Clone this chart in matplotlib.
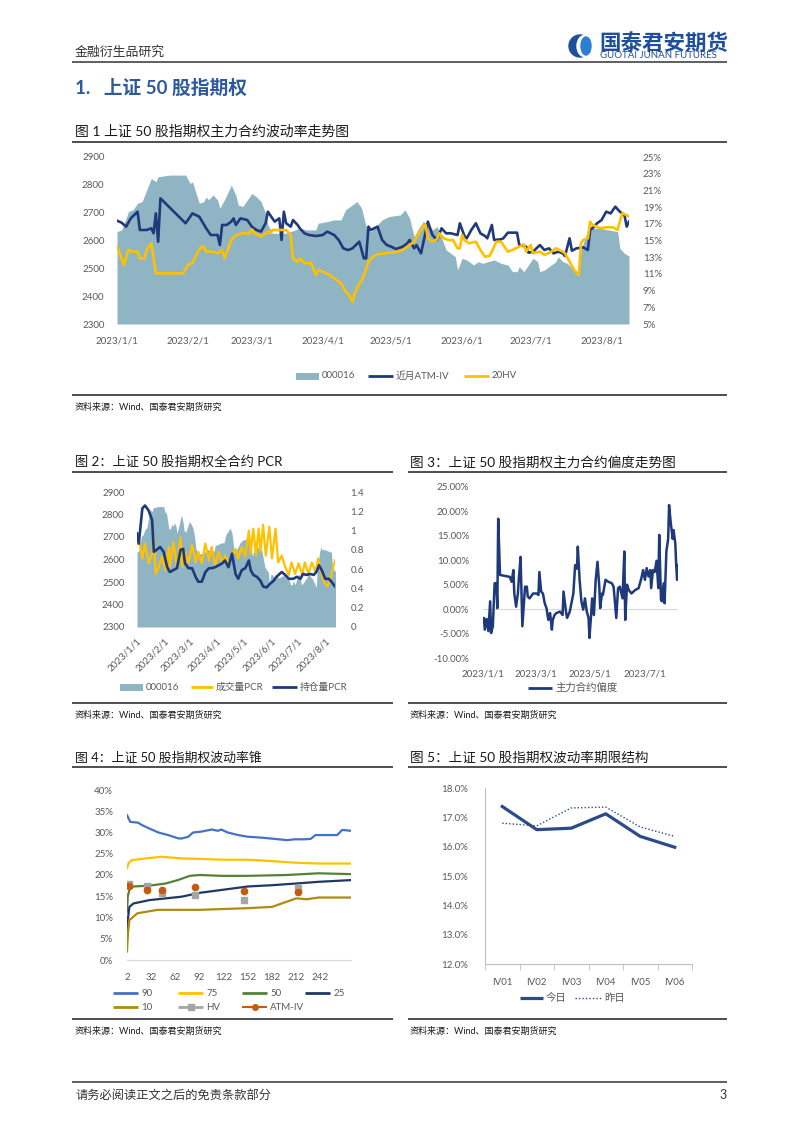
import numpy as np
import pandas as pd
import matplotlib
matplotlib.use('Agg')
import matplotlib.pyplot as plt
import matplotlib.ticker as mticker
import matplotlib.dates as mdates
from matplotlib.patches import Rectangle, Ellipse, Circle

# ---------------- data ----------------
BASE = '2023-01-01'
month_ticks = ['2023-01-01', '2023-02-01', '2023-03-01', '2023-04-01',
               '2023-05-01', '2023-06-01', '2023-07-01', '2023-08-01']
skew_ticks = ['2023-01-01', '2023-03-01', '2023-05-01', '2023-07-01']

# 000016 index (days since 2023-01-01)
idx_day = [0,2,4,5,7,9,11,13,15,17,18,23,30,32,33,36,38,39,40,42,44,45,47,49,50,52,53,55,58,59,
           61,63,65,66,68,74,78,80,83,87,88,92,95,98,100,102,105,107,109,111,116,119,124,126,128,130,132,134,136,138,
           140,141,144,146,148,149,151,153,156,158,160,165,168,171,173,175,176,178,180,182,184,185,187,189,192,193,195,197,200,202,
           203,206,207,208,211,215,219,220,222,224]
idx_val = [2632,2638,2680,2704,2710,2734,2740,2781,2823,2811,2829,2835,2835,2805,2811,2734,2740,2757,2746,2763,
           2746,2716,2746,2781,2799,2763,2728,2722,2757,2769,2757,2740,2698,2656,2626,2626,2638,2644,2638,2638,
           2662,2668,2674,2674,2710,2722,2740,2716,2650,2632,2674,2686,2692,2710,2680,2614,2644,2668,2656,2638,
           2650,2632,2566,2554,2542,2494,2536,2530,2512,2524,2518,2530,2518,2512,2488,2488,2506,2488,2512,2536,
           2524,2488,2494,2506,2524,2542,2524,2518,2494,2476,2566,2638,2656,2644,2644,2638,2632,2572,2554,2544]

# near-month ATM implied vol (%)
atm_day = [0,2,4,6,9,10,13,15,16,17,18,19,30,33,36,39,41,44,45,46,48,50,51,52,54,57,59,61,63,65,
           66,68,69,71,72,73,74,76,77,79,80,82,84,87,90,92,95,97,99,101,103,106,108,109,110,111,114,116,118,120,
           122,125,127,128,130,131,133,136,138,140,142,144,146,149,150,152,153,155,157,159,161,162,164,165,168,169,171,175,176,179,
           180,182,185,187,189,191,193,195,196,198,199,201,204,206,207,208,210,212,214,216,218,220,222,223,224]
atm_val = [17.37,17.14,16.66,17.65,18.45,16.26,16.26,16.46,15.86,18.25,14.86,20.05,17.06,18.25,17.85,16.46,15.66,15.66,14.46,16.86,
           16.86,17.26,17.65,16.86,17.65,17.45,16.66,16.26,16.06,17.06,18.45,17.65,17.26,17.65,15.06,18.45,17.06,16.66,17.45,16.86,
           16.46,15.86,15.66,15.54,15.66,16.06,15.66,15.06,14.06,13.86,14.06,14.86,12.86,12.86,16.66,16.26,16.66,15.06,14.46,14.26,
           13.98,14.26,14.66,15.06,14.06,14.46,13.46,17.26,15.66,15.06,16.46,15.86,15.86,15.66,17.06,15.54,15.26,16.26,17.06,15.86,
           15.54,15.26,16.86,15.06,15.14,15.26,15.94,15.94,14.46,14.26,13.54,13.66,14.46,13.86,14.06,13.46,13.66,13.46,13.14,15.26,
           13.78,14.06,14.18,13.86,16.26,16.46,17.06,17.45,18.45,18.25,19.05,18.45,18.05,16.66,17.26]

# 20-day historical vol (%)
hv_day = [0,2,3,5,7,9,10,12,13,15,17,29,31,33,35,37,38,39,42,44,46,47,49,50,52,55,58,59,60,63,
          66,67,68,74,76,77,79,80,82,85,87,88,90,93,95,98,100,101,103,104,106,107,109,110,112,114,117,119,122,125,
          128,130,132,134,135,136,138,140,141,143,145,147,149,150,151,152,154,157,159,161,163,165,166,168,171,173,176,178,179,181,
          182,185,187,190,192,195,196,198,200,202,203,204,206,207,208,210,211,214,217,219,221,223,224]
hv_val = [14.26,12.86,12.07,13.86,13.66,13.66,12.86,12.86,13.86,14.66,11.07,11.07,12.07,12.27,13.46,14.26,14.26,13.66,13.66,13.46,
          13.86,12.86,14.26,15.06,15.66,15.86,15.86,16.34,15.94,15.46,16.06,15.86,16.26,16.26,15.66,12.86,12.46,12.86,12.27,12.27,
          10.87,11.47,11.27,10.87,10.47,9.87,8.87,8.67,7.67,8.67,9.87,10.07,11.6,12.47,13.06,13.38,13.46,13.54,13.62,13.86,
          14.46,14.86,15.86,16.74,16.86,15.26,14.86,15.14,15.86,15.26,15.06,15.06,14.06,14.06,15.66,15.06,14.66,14.86,13.86,13.06,
          13.14,14.26,14.86,14.86,13.66,13.86,14.26,14.54,13.66,14.46,13.46,13.66,13.26,13.66,14.06,13.66,13.46,12.47,11.47,10.87,
          14.66,15.06,15.26,17.26,16.86,16.66,16.46,16.58,16.58,16.26,18.25,18.05,17.86]

# PCR (all contracts)
vol_pcr_day = [0,2,6,9,13,17,19,21,24,28,32,36,37,41,45,49,51,54,58,62,66,69,73,77,81,84,88,92,96,99,
               103,107,111,114,118,122,126,128,131,134,137,139,142,145,149,152,156,159,163,167,171,174,178,182,186,189,193,197,201,204,
               208,210,214,217,220,223]
vol_pcr = [0.865,0.92,0.71,0.865,0.66,0.76,0.93,0.55,0.61,0.73,0.59,0.83,0.62,0.88,0.62,0.93,0.62,0.78,0.67,0.85,
           0.67,0.78,0.66,0.865,0.69,0.83,0.64,0.78,0.66,0.74,0.66,0.73,0.81,0.71,0.83,0.73,1.00,0.76,1.02,0.74,
           1.02,0.78,1.06,0.74,1.04,0.71,1.02,0.67,0.74,0.62,0.54,0.67,0.55,0.66,0.54,0.67,0.55,0.67,0.57,0.71,
           0.55,0.48,0.42,0.47,0.59,0.69]
oi_pcr_day = [0,2,6,9,13,17,19,22,26,30,34,37,41,45,49,52,54,58,62,66,69,73,77,81,84,88,92,96,99,103,
              107,111,114,118,122,126,128,131,135,139,142,146,150,154,157,163,167,171,176,180,184,187,191,195,199,202,205,208,212,216,
              219,223]
oi_pcr = [0.97,0.865,1.23,1.26,1.21,1.11,0.78,0.80,0.83,0.78,0.62,0.57,0.59,0.61,0.80,0.81,0.66,0.61,0.61,0.52,
          0.47,0.47,0.57,0.61,0.61,0.62,0.64,0.66,0.69,0.62,0.76,0.55,0.50,0.59,0.61,0.69,0.59,0.54,0.52,0.48,
          0.42,0.41,0.45,0.48,0.52,0.57,0.54,0.50,0.50,0.52,0.50,0.55,0.54,0.55,0.54,0.57,0.64,0.59,0.50,0.50,
          0.47,0.42]

# main-contract skew (%)
skew_day = [0,1,2,4,6,8,9,11,13,15,16,17,19,30,32,34,35,37,39,40,42,44,47,49,50,52,56,60,62,63,
            65,67,69,71,73,75,77,78,80,82,86,89,90,93,94,97,101,103,105,106,108,110,112,114,116,118,119,121,122,124,
            126,128,130,131,133,134,137,140,144,146,149,151,153,156,158,159,161,163,166,170,174,177,179,181,183,185,187,188,190,192,
            194,196,197,199,200,202,203,205,207,208,210,212,213,215,216,217,218]
skew_val = [-2.5,-1.8,-4.2,-2.0,-4.5,1.6,-4.9,-3.5,5.3,5.3,0.2,18.5,7.0,6.6,5.6,8.0,3.2,0.5,3.2,6.0,
            10.7,-3.5,4.6,4.6,2.6,2.2,3.2,3.2,2.9,7.6,3.6,3.2,1.2,0.2,-2.2,-0.8,-4.2,-2.2,-1.2,-0.8,
            -0.5,-1.2,3.6,-0.8,-1.8,-0.5,3.2,9.0,8.3,12.8,6.0,1.6,-0.1,2.2,-0.5,-1.8,-5.9,-0.8,2.2,-1.2,
            6.0,9.7,4.6,0.2,3.2,2.9,6.0,5.6,5.3,4.6,-1.8,4.3,4.6,2.2,11.8,-2.2,5.0,3.9,3.2,3.9,
            4.3,6.3,8.0,6.0,8.4,6.7,8.0,4.3,8.0,7.6,9.9,4.3,15.2,1.9,1.6,5.3,1.2,11.8,14.4,21.3,
            17.5,14.4,16.2,13.4,9.0,6.0,9.0]

# volatility cone (%)
cone_x90 = [2,6,16,20,29,41,53,66,70,78,84,94,107,115,119,127,140,152,168,185,201,210,222,230,236,251,263,269,280]
cone_90 = [34.1,32.5,32.3,31.8,31.0,30.0,29.4,28.6,28.6,29.0,30.0,30.2,30.7,30.4,30.7,30.0,29.4,29.0,28.8,28.5,
           28.2,28.4,28.4,28.5,29.4,29.4,29.4,30.6,30.4]
cone_x75 = [2,4,8,30,45,70,92,120,152,180,210,240,280]
cone_75 = [21.6,22.8,23.5,24.0,24.3,23.9,23.8,23.6,23.6,23.3,22.9,22.7,22.7]
cone_x50 = [2,3,5,10,30,50,65,80,92,120,152,200,240,280]
cone_50 = [11.4,15.0,16.5,17.3,17.5,18.0,18.8,19.8,20.0,19.8,19.8,20.0,20.4,20.2]
cone_x25 = [2,3,5,10,30,50,70,92,120,152,182,212,240,280]
cone_25 = [4.7,9.5,12.5,13.3,14.1,14.5,14.9,15.8,16.5,17.3,17.6,18.0,18.4,18.8]
cone_x10 = [2,3,5,15,40,92,152,182,200,212,225,240,280]
cone_10 = [2.0,6.0,9.4,11.0,11.8,11.8,12.2,12.5,13.7,14.5,14.3,14.7,14.7]
cone_pt_x = [5,27,45,86,147,214]
cone_hv = [17.9,17.4,15.8,15.3,14.1,17.0]
cone_atm = [17.4,16.5,16.5,17.1,16.3,16.1]
cone_xticks = [2,32,62,92,122,152,182,212,242]

# term structure (%)
term_labels = ['IV01', 'IV02', 'IV03', 'IV04', 'IV05', 'IV06']
term_today = [17.37, 16.58, 16.63, 17.12, 16.35, 15.98]
term_yday = [16.80, 16.71, 17.32, 17.35, 16.67, 16.35]

# ---------------- style ----------------
W, H = 802, 1134
NAVY = '#1F3A7A'
AREA = '#8FB5C5'
GOLD = '#FFC000'
TICK = '#595959'
TXT = '#1a1a1a'
RULE = '#404040'
plt.rcParams['font.family'] = ['Lato', 'Noto Sans CJK SC', 'DejaVu Sans']
plt.rcParams['axes.unicode_minus'] = False

fig = plt.figure(figsize=(W / 100, H / 100), dpi=100)


def axes_px(l, t, r, b):
    ax = fig.add_axes([l / W, 1 - b / H, (r - l) / W, (b - t) / H])
    ax.patch.set_alpha(0)
    return ax


def style(ax, pad_x=8, pad_y=7):
    for s in ax.spines.values():
        s.set_visible(False)
    ax.tick_params(axis='both', length=0, labelsize=7, labelcolor=TICK)
    ax.tick_params(axis='x', pad=pad_x)
    ax.tick_params(axis='y', pad=pad_y)


def dates(days):
    return pd.Timestamp(BASE) + pd.to_timedelta(np.asarray(days), unit='D')


date_fmt = mticker.FuncFormatter(
    lambda v, p: '{0.year}/{0.month}/{0.day}'.format(mdates.num2date(v)))

ov = fig.add_axes([0, 0, 1, 1], zorder=10)
ov.set_xlim(0, W)
ov.set_ylim(H, 0)
ov.axis('off')


def rule(y, x0, x1, lw=1.3, color=RULE):
    ov.plot([x0, x1], [y, y], color=color, lw=lw, solid_capstyle='butt')


def t(x, y, s, size, color=TXT, **kw):
    ov.text(x, y, s, fontsize=size, color=color, va='center', **kw)


def leg_patch(x, y, color, label, w=23, h=7, size=7):
    ov.add_patch(Rectangle((x, y - h / 2), w, h, color=color, lw=0))
    t(x + w + 3, y, label, size, TICK)


def leg_line(x, y, color, label, w=25, lw=2.0, ls='-', marker=None, ms=4, size=7):
    ov.plot([x, x + w], [y, y], color=color, lw=lw, ls=ls, solid_capstyle='butt')
    if marker:
        ov.plot([x + w / 2], [y], marker=marker, color=color, ms=ms, lw=0)
    t(x + w + 3, y, label, size, TICK)


# ---------------- page decorations ----------------
t(75, 52, '金融衍生品研究', 9.3, '#333333')
rule(62, 72, 727, lw=1.1, color='#333333')
ov.add_patch(Circle((580, 46), 11, color='#1F4E9A'))
ov.add_patch(Ellipse((584.5, 46), 15, 21, color='white'))
ov.add_patch(Ellipse((586, 46), 10, 18, color='#2F7FD0'))
t(599, 43, '国泰君安期货', 15.5, '#1F4E9A', fontweight='bold')
t(600, 56, 'GUOTAI JUNAN FUTURES', 7.0, '#1F4E9A')
t(75, 88, '1.   上证 50 股指期权', 13.5, '#2E5A9C', fontweight='bold')

t(75, 131, '图 1 上证 50 股指期权主力合约波动率走势图', 10)
rule(142, 72, 727)
rule(395, 72, 727)
t(75, 407, '资料来源：Wind、国泰君安期货研究', 6.5)

t(75, 462, '图 2：上证 50 股指期权全合约 PCR', 9.5)
rule(472, 72, 393)
rule(703, 72, 393)
t(75, 715, '资料来源：Wind、国泰君安期货研究', 6.5)

t(410, 462, '图 3：上证 50 股指期权主力合约偏度走势图', 9.8)
rule(472, 408, 727)
rule(703, 408, 727)
t(410, 715, '资料来源：Wind、国泰君安期货研究', 6.5)

t(75, 758, '图 4：上证 50 股指期权波动率锥', 9.3)
rule(767, 72, 393)
rule(1019, 72, 393)
t(75, 1031, '资料来源：Wind、国泰君安期货研究', 6.5)

t(410, 758, '图 5：上证 50 股指期权波动率期限结构', 9.8)
rule(767, 408, 727)
rule(1019, 408, 727)
t(410, 1031, '资料来源：Wind、国泰君安期货研究', 6.5)

rule(1082, 72, 727, lw=1.1, color='#333333')
t(75, 1095, '请务必阅读正文之后的免责条款部分', 8.8, '#333333')
t(727, 1095, '3', 9, '#333333', ha='right')

# ---------------- chart 1 ----------------
ax1 = axes_px(117, 157, 629, 324)
ax1.fill_between(dates(idx_day), idx_val, 2300, color=AREA, lw=0)
ax1.set_ylim(2300, 2900)
ax1.set_yticks(range(2300, 2901, 100))
ax1.set_xlim(dates(idx_day)[0], dates(idx_day)[-1])
ax1.set_xticks(pd.to_datetime(month_ticks))
ax1.xaxis.set_major_formatter(date_fmt)
style(ax1, pad_x=9, pad_y=9)
ax1r = ax1.twinx()
ax1r.patch.set_alpha(0)
ax1r.plot(dates(atm_day), atm_val, color=NAVY, lw=1.9)
ax1r.plot(dates(hv_day), hv_val, color=GOLD, lw=1.9)
ax1r.set_ylim(5, 25)
ax1r.set_yticks(range(5, 26, 2))
ax1r.yaxis.set_major_formatter(mticker.FuncFormatter(lambda v, p: f'{v:.0f}%'))
style(ax1r, pad_y=10)
leg_patch(296, 376, AREA, '000016')
leg_line(368, 376, NAVY, '近月ATM-IV')
leg_line(464, 376, GOLD, '20HV')

# ---------------- chart 2 ----------------
ax2 = axes_px(137, 492, 335, 627)
ax2.fill_between(dates(idx_day), idx_val, 2300, color=AREA, lw=0)
ax2.set_ylim(2300, 2900)
ax2.set_yticks(range(2300, 2901, 100))
ax2.set_xlim(dates(idx_day)[0], dates(vol_pcr_day)[-1])
ax2.set_xticks(pd.to_datetime(month_ticks))
ax2.xaxis.set_major_formatter(date_fmt)
style(ax2, pad_x=7, pad_y=9)
plt.setp(ax2.get_xticklabels(), rotation=45, ha='right', rotation_mode='anchor')
ax2r = ax2.twinx()
ax2r.patch.set_alpha(0)
ax2r.plot(dates(vol_pcr_day), vol_pcr, color=GOLD, lw=1.6)
ax2r.plot(dates(oi_pcr_day), oi_pcr, color=NAVY, lw=1.9)
ax2r.set_ylim(0, 1.4)
ax2r.set_yticks(np.arange(0, 1.41, 0.2))
ax2r.yaxis.set_major_formatter(mticker.FuncFormatter(lambda v, p: f'{v:.1f}'.rstrip('0').rstrip('.') if v else '0'))
style(ax2r, pad_y=11)
leg_patch(120, 687, AREA, '000016')
leg_line(191, 687, GOLD, '成交量PCR', w=22)
leg_line(272, 687, NAVY, '持仓量PCR', w=25)

# ---------------- chart 3 ----------------
ax3 = axes_px(483, 487, 678, 658)
ax3.axhline(0, color='#D9D9D9', lw=0.8)
ax3.plot(dates(skew_day), skew_val, color=NAVY, lw=1.8)
ax3.set_ylim(-10, 25)
ax3.set_yticks(range(-10, 26, 5))
ax3.yaxis.set_major_formatter(mticker.FuncFormatter(lambda v, p: f'{v:.2f}%'))
ax3.set_xlim(dates(skew_day)[0], dates(skew_day)[-1])
ax3.set_xticks(pd.to_datetime(skew_ticks))
ax3.xaxis.set_major_formatter(date_fmt)
style(ax3, pad_x=8, pad_y=10)
leg_line(528, 688, NAVY, '主力合约偏度', w=24, size=7.5)

# ---------------- chart 4 ----------------
ax4 = axes_px(127, 790, 351, 960)
ax4.plot(cone_x90, cone_90, color='#4472C4', lw=1.6)
ax4.plot(cone_x75, cone_75, color=GOLD, lw=1.6)
ax4.plot(cone_x50, cone_50, color='#548235', lw=1.6)
ax4.plot(cone_x25, cone_25, color='#203864', lw=1.6)
ax4.plot(cone_x10, cone_10, color='#B08A10', lw=1.6)
ax4.plot(cone_pt_x, cone_hv, ls='none', marker='s', ms=4.5, color='#A5A5A5')
ax4.plot(cone_pt_x, cone_atm, ls='none', marker='o', ms=4.5, color='#C55A11')
ax4.set_ylim(0, 40)
ax4.set_yticks(range(0, 41, 5))
ax4.yaxis.set_major_formatter(mticker.FuncFormatter(lambda v, p: f'{v:.0f}%'))
ax4.set_xlim(2, 280)
ax4.set_xticks(cone_xticks)
style(ax4, pad_x=9, pad_y=10)
ax4.spines['bottom'].set_visible(True)
ax4.spines['bottom'].set_color('#D9D9D9')
leg_line(113, 993, '#4472C4', '90')
leg_line(178, 993, GOLD, '75')
leg_line(242, 993, '#548235', '50')
leg_line(305, 993, '#203864', '25')
leg_line(113, 1007, '#B08A10', '10')
leg_line(178, 1007, '#A5A5A5', 'HV', marker='s')
leg_line(242, 1007, '#C55A11', 'ATM-IV', lw=1.5, marker='o')

# ---------------- chart 5 ----------------
ax5 = axes_px(485, 788, 692, 964)
xpos = np.arange(len(term_labels))
ax5.plot(xpos, term_today, color='#2B4A8B', lw=2.3)
ax5.plot(xpos, term_yday, color='#2B4A8B', lw=1.0, ls=(0, (1, 1.5)))
ax5.set_ylim(12, 18)
ax5.set_yticks(range(12, 19))
ax5.yaxis.set_major_formatter(mticker.FuncFormatter(lambda v, p: f'{v:.1f}%'))
ax5.set_xlim(-0.5, len(term_labels) - 0.5)
ax5.set_xticks(xpos)
ax5.set_xticklabels(term_labels)
style(ax5, pad_x=10, pad_y=12)
ax5.set_xticks(np.arange(-0.5, len(term_labels)), minor=True)
ax5.tick_params(axis='x', which='minor', length=4, color='#BFBFBF', direction='out')
for s in ('left', 'bottom'):
    ax5.spines[s].set_visible(True)
    ax5.spines[s].set_color('#BFBFBF')
leg_line(520, 998, '#2B4A8B', '今日', w=23, lw=2.3, size=7.5)
leg_line(575, 998, '#2B4A8B', '昨日', w=26, lw=1.0, ls=(0, (1, 1.5)), size=7.5)

fig.savefig('out.png', dpi=100)
